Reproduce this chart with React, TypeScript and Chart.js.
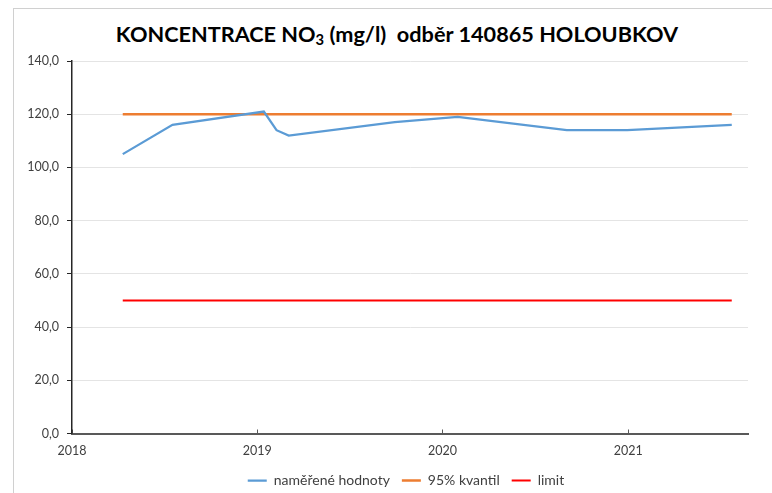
import React, { useEffect, useRef } from "react";
import { Chart, registerables } from "chart.js";

Chart.register(...registerables);

// measured series
const sampleDates = [
  "2018-04-11", "2018-07-18", "2019-01-14", "2019-02-08", "2019-03-04",
  "2019-09-29", "2020-01-31", "2020-09-02", "2020-12-30", "2021-07-24",
];
const measuredValues = [105, 116, 121, 114, 112, 117, 119, 114, 114, 116];

// reference lines
const refDates = ["2018-04-11", "2021-07-24"];
const kvantilValues = [120, 120];
const limitValues = [50, 50];

// axes
const yearTicks = [2018, 2019, 2020, 2021];
const axisStart = "2018-01-01";
const axisEnd = "2021-08-25";
const yMin = 0;
const yMax = 140;
const yStep = 20;

const seriesLabels = ["naměřené hodnoty", "95% kvantil", "limit"];

const toMs = (d: string) => Date.parse(d + "T00:00:00Z");

const FONT = "Lato, 'Open Sans', sans-serif";
const LEGEND_SHIFT = 64;

const legendShift = {
  id: "legendShift",
  afterLayout(chart: any) {
    const l = chart.legend;
    if (l) l.left += LEGEND_SHIFT;
  },
};

export default function App() {
  const canvasRef = useRef<HTMLCanvasElement | null>(null);

  useEffect(() => {
    const canvas = canvasRef.current;
    if (!canvas) return;
    const pts = (dates: string[], vals: number[]) =>
      dates.map((d, i) => ({ x: toMs(d), y: vals[i] }));

    const chart = new Chart(canvas, {
      type: "line",
      data: {
        datasets: [
          {
            label: seriesLabels[0],
            data: pts(sampleDates, measuredValues),
            borderColor: "#5B9BD5",
            backgroundColor: "#5B9BD5",
            borderWidth: 2.25,
            pointRadius: 0,
            tension: 0,
          },
          {
            label: seriesLabels[1],
            data: pts(refDates, kvantilValues),
            borderColor: "#ED7D31",
            backgroundColor: "#ED7D31",
            borderWidth: 2.5,
            pointRadius: 0,
          },
          {
            label: seriesLabels[2],
            data: pts(refDates, limitValues),
            borderColor: "#FF0000",
            backgroundColor: "#FF0000",
            borderWidth: 2,
            pointRadius: 0,
          },
        ],
      },
      plugins: [legendShift],
      options: {
        responsive: false,
        animation: false,
        devicePixelRatio: 1,
        layout: { padding: { top: 61, right: 24, left: 0, bottom: -4.5 } },
        plugins: {
          title: { display: false },
          tooltip: { enabled: false },
          legend: {
            position: "bottom",
            labels: {
              usePointStyle: true,
              pointStyle: "line",
              pointStyleWidth: 19,
              padding: 12,
              color: "#404040",
              font: { family: FONT, size: 14 },
            },
          },
        },
        scales: {
          x: {
            type: "linear",
            min: toMs(axisStart),
            max: toMs(axisEnd),
            afterBuildTicks: (scale: any) => {
              scale.ticks = yearTicks.map((y) => ({ value: toMs(`${y}-01-01`) }));
            },
            afterFit: (scale: any) => {
              scale.height = 28;
            },
            ticks: {
              autoSkip: false,
              maxRotation: 0,
              padding: 14,
              color: "#404040",
              font: { family: FONT, size: 12.5 },
              callback: (v: any) => String(new Date(Number(v)).getUTCFullYear()),
            },
            grid: {
              display: true,
              drawOnChartArea: false,
              drawTicks: true,
              tickLength: -4,
              tickColor: "#595959",
              lineWidth: 1,
            },
            border: { display: true, color: "#595959", width: 2 },
          },
          y: {
            min: yMin,
            max: yMax,
            afterFit: (scale: any) => {
              scale.width = 72;
            },
            ticks: {
              stepSize: yStep,
              padding: 8,
              color: "#404040",
              font: { family: FONT, size: 12.5 },
              callback: (v: any) => Number(v).toFixed(1).replace(".", ","),
            },
            grid: {
              color: "#e4e4e4",
              lineWidth: 1,
              drawTicks: true,
              tickLength: 5,
              tickColor: "#262626",
            },
            border: { display: true, color: "#262626", width: 1.5 },
          },
        },
      },
    });
    return () => chart.destroy();
  }, []);

  return (
    <div style={{ position: "absolute", left: 0, top: 0, width: 772, height: 493, background: "#fff", overflow: "hidden" }}>
      <div
        style={{
          position: "absolute",
          left: 13,
          top: 8,
          width: 800,
          height: 520,
          borderLeft: "1px solid #d0d0d0",
          borderTop: "1px solid #d0d0d0",
        }}
      />
      <div
        style={{
          position: "absolute",
          left: 0,
          top: 19.5,
          width: 794,
          textAlign: "center",
          fontFamily: FONT,
          fontWeight: 700,
          fontSize: 21.7,
          lineHeight: "28px",
          color: "#000",
          whiteSpace: "pre",
        }}
      >
        KONCENTRACE NO<sub style={{ fontSize: "0.68em", verticalAlign: "-0.22em", lineHeight: 0 }}>3</sub>
        {" (mg/l)  odběr 140865 HOLOUBKOV"}
      </div>
      <canvas
        ref={canvasRef}
        width={772}
        height={493}
        style={{ position: "absolute", left: 0, top: 0, width: 772, height: 493 }}
      />
    </div>
  );
}
